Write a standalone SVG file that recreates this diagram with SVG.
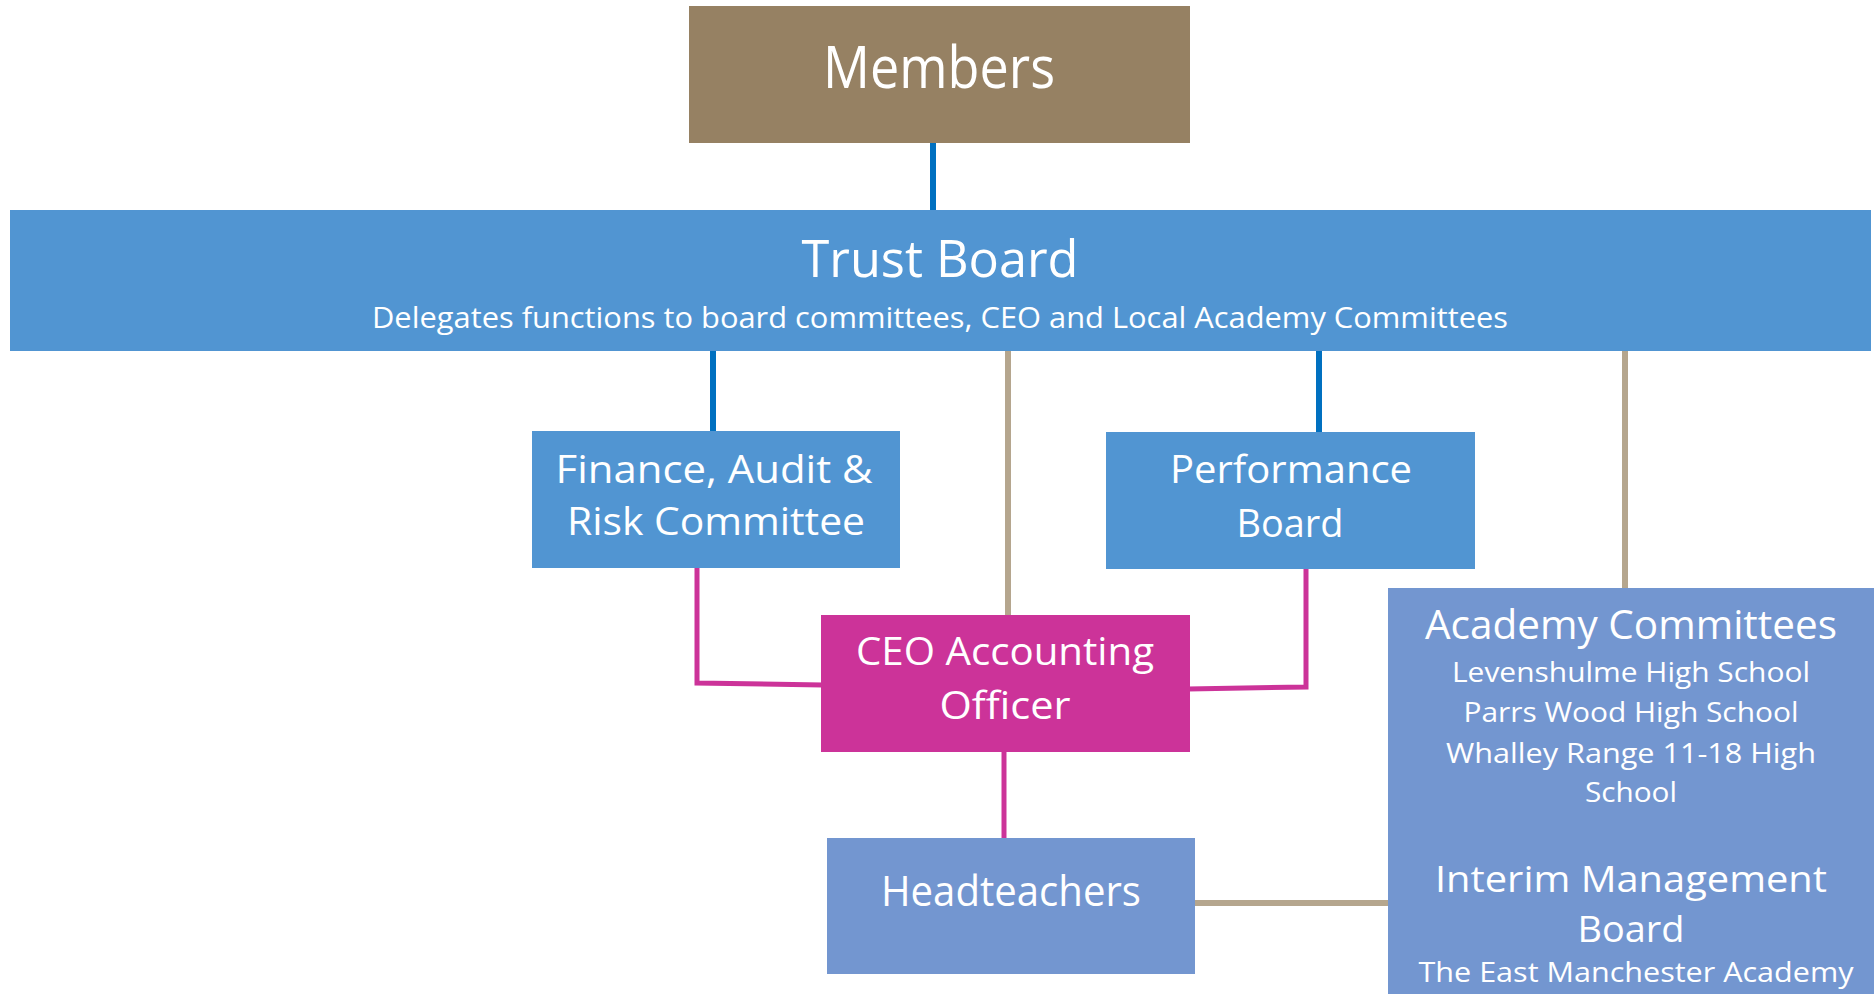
<svg xmlns="http://www.w3.org/2000/svg" width="1874" height="994" viewBox="0 0 1874 994">
<style>
.t{font-family:"Open Sans","Noto Sans","DejaVu Sans",sans-serif;fill:#ffffff;text-anchor:middle}
.blue{stroke:#0070C0;stroke-width:6;fill:none}
.mag{stroke:#CC3399;stroke-width:5;fill:none}
.tan{stroke:#B5A68E;stroke-width:6;fill:none}
</style>
<rect width="1874" height="994" fill="#ffffff"/>
<g id="connectors">
<line class="blue" x1="933" y1="139" x2="933" y2="212"/>
<line class="blue" x1="713" y1="349" x2="713" y2="433"/>
<line class="blue" x1="1319" y1="349" x2="1319" y2="434"/>
<line class="tan" x1="1008" y1="349" x2="1008" y2="617"/>
<line class="tan" x1="1625" y1="349" x2="1625" y2="590"/>
<polyline class="mag" points="697,566 697,683 823,685"/>
<polyline class="mag" points="1306,567 1306,687 1188,689"/>
<line class="mag" x1="1004" y1="750" x2="1004" y2="840"/>
<line class="tan" x1="1193" y1="903" x2="1394" y2="903"/>
</g>
<g id="members">
<rect x="689" y="6" width="501" height="137" fill="#968163"/>
<text class="t" x="939" y="88" font-size="58" textLength="232" lengthAdjust="spacingAndGlyphs">Members</text>
</g>
<g id="trust-board">
<rect x="10" y="210" width="1861" height="141" fill="#5195D2"/>
<text class="t" x="940" y="277" font-size="52" textLength="277" lengthAdjust="spacingAndGlyphs">Trust Board</text>
<text class="t" x="940" y="328" font-size="29" textLength="1136" lengthAdjust="spacingAndGlyphs">Delegates functions to board committees, CEO and Local Academy Committees</text>
</g>
<g id="finance">
<rect x="532" y="431" width="368" height="137" fill="#5195D2"/>
<text class="t" x="714" y="483" font-size="38" textLength="317" lengthAdjust="spacingAndGlyphs">Finance, Audit &amp;</text>
<text class="t" x="716" y="535" font-size="38" textLength="298" lengthAdjust="spacingAndGlyphs">Risk Committee</text>
</g>
<g id="performance">
<rect x="1106" y="432" width="369" height="137" fill="#5195D2"/>
<text class="t" x="1291" y="483" font-size="39" textLength="242" lengthAdjust="spacingAndGlyphs">Performance</text>
<text class="t" x="1290" y="537" font-size="39" textLength="107" lengthAdjust="spacingAndGlyphs">Board</text>
</g>
<g id="ceo">
<rect x="821" y="615" width="369" height="137" fill="#CC3399"/>
<text class="t" x="1005" y="665" font-size="39" textLength="298" lengthAdjust="spacingAndGlyphs">CEO Accounting</text>
<text class="t" x="1005" y="719" font-size="39" textLength="131" lengthAdjust="spacingAndGlyphs">Officer</text>
</g>
<g id="headteachers">
<rect x="827" y="838" width="368" height="136" fill="#7396D0"/>
<text class="t" x="1011" y="906" font-size="42" textLength="260" lengthAdjust="spacingAndGlyphs">Headteachers</text>
</g>
<g id="academy">
<rect x="1388" y="588" width="486" height="406" fill="#7396D0"/>
<text class="t" x="1631" y="639" font-size="41" textLength="412" lengthAdjust="spacingAndGlyphs">Academy Committees</text>
<text class="t" x="1631" y="682" font-size="28" textLength="358" lengthAdjust="spacingAndGlyphs">Levenshulme High School</text>
<text class="t" x="1631" y="722" font-size="28" textLength="335" lengthAdjust="spacingAndGlyphs">Parrs Wood High School</text>
<text class="t" x="1631" y="763" font-size="28" textLength="370" lengthAdjust="spacingAndGlyphs">Whalley Range 11-18 High</text>
<text class="t" x="1631" y="802" font-size="28" textLength="92" lengthAdjust="spacingAndGlyphs">School</text>
<text class="t" x="1631" y="892" font-size="37" textLength="392" lengthAdjust="spacingAndGlyphs">Interim Management</text>
<text class="t" x="1631" y="942" font-size="37" textLength="107" lengthAdjust="spacingAndGlyphs">Board</text>
<text class="t" x="1636" y="982" font-size="28" textLength="435" lengthAdjust="spacingAndGlyphs">The East Manchester Academy</text>
</g>
</svg>
